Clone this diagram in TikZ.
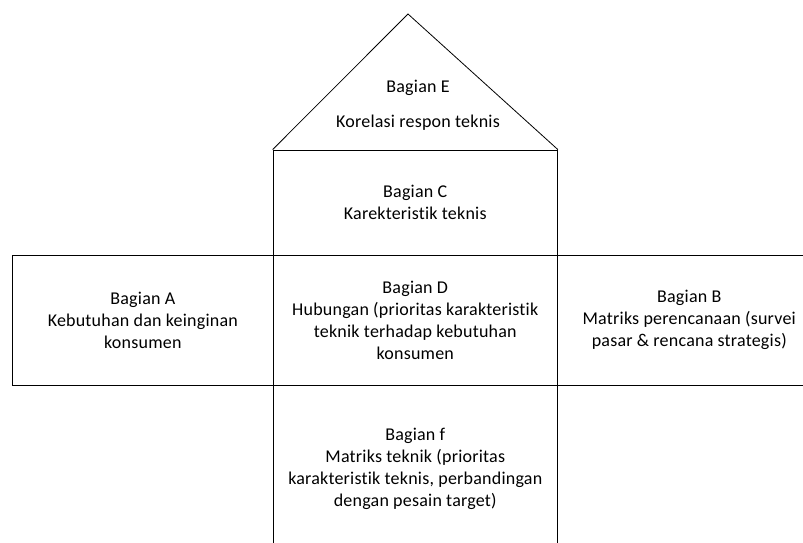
\documentclass[tikz,border=0pt]{standalone}
\usepackage{fontspec}
\setmainfont{Carlito}[Ligatures={NoCommon,NoRequired}, LetterSpace=1.2]
\begin{document}
\begin{tikzpicture}[x=1pt,y=-1pt,
  box/.style={draw=black, line width=0.8pt, inner sep=0pt, align=center, font=\fontsize{18}{22}\selectfont},
  lbl/.style={inner sep=0pt, align=center, font=\fontsize{18}{22}\selectfont},
  edge/.style={draw=black, line width=0.8pt, line join=miter}]
\useasboundingbox (0,0) rectangle (803,543);
\clip (0,0) rectangle (803,543);
\coordinate (apex) at (408,14);
\node[box, minimum width=284.5pt, minimum height=105pt] (C) at (415.25,202.5) {Bagian C\\Karekteristik teknis};
\node[box, minimum width=284.5pt, minimum height=130pt] (D) at (415.25,320) {Bagian D\\Hubungan (prioritas karakteristik\\teknik terhadap kebutuhan\\konsumen};
\node[box, minimum width=260.3pt, minimum height=130pt] (A) at (142.85,320) {Bagian A\\Kebutuhan dan keinginan\\konsumen};
\node[box, minimum width=263.5pt, minimum height=130pt] (B) at (689.25,320) {Bagian B\\Matriks perencanaan (survei\\pasar \& rencana strategis)};
\node[box, minimum width=284.5pt, minimum height=168pt] (F) at (415.25,469) {Bagian f\\Matriks teknik (prioritas\\karakteristik teknis, perbandingan\\dengan pesain target)};
\draw[edge] (C.north west) -- (apex) -- (C.north east);
\node[lbl] (E) at (418,105.5) {Bagian E\\[13pt]Korelasi respon teknis};
\end{tikzpicture}
\end{document}
